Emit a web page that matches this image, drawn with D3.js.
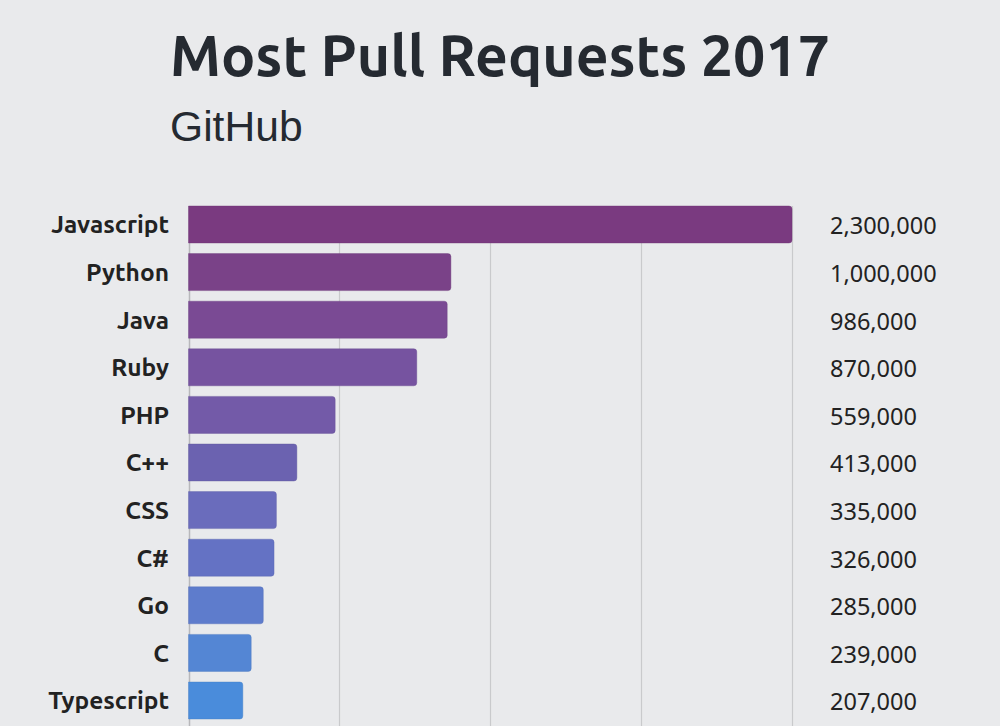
<!DOCTYPE html>
<html>
<head>
<meta charset="utf-8">
<script src="https://cdn.jsdelivr.net/npm/d3@7"></script>
<style>
  html, body { margin: 0; padding: 0; background: #e9eaec; }
  svg { display: block; }
</style>
</head>
<body>
<svg id="chart" width="1000" height="726"></svg>
<script>
const languages = ["Javascript", "Python", "Java", "Ruby", "PHP", "C++", "CSS", "C#", "Go", "C", "Typescript"];
const pullRequests = [2300000, 1000000, 986000, 870000, 559000, 413000, 335000, 326000, 285000, 239000, 207000];
const xTicks = [0, 575000, 1150000, 1725000, 2300000];
const titleText = "Most Pull Requests 2017";
const subtitleText = "GitHub";

// style palette (purple to blue)
const palette = ["#7a3a80", "#7a4288", "#7a4a94", "#7653a0", "#735aa8", "#6b62b0", "#6a6cbc", "#6472c4", "#5e7ccc", "#5486d4", "#4a8cdb"];

const W = 1000, H = 726;
const svg = d3.select("#chart");

const x = d3.scaleLinear().domain([0, 2300000]).range([188.5, 792]);
const y = d3.scaleBand().domain(languages).range([206, 719]).paddingInner(0.223).paddingOuter(0);
const color = d3.scaleOrdinal().domain(languages).range(palette);

// title
const title = svg.append("text")
  .attr("x", 170).attr("y", 76)
  .attr("fill", "#252a31")
  .style("font-family", "Ubuntu, 'Open Sans', 'Noto Sans', sans-serif")
  .style("font-weight", 700)
  .style("font-size", "54px")
  .text(titleText);
const tw = title.node().getComputedTextLength();
title.style("font-size", (54 * 660 / tw) + "px");

svg.append("text")
  .attr("x", 170).attr("y", 141)
  .attr("fill", "#252a31")
  .style("font-family", "'Liberation Sans', Arial, sans-serif")
  .style("font-size", "42.6px")
  .text(subtitleText);

// gridlines
svg.append("g")
  .selectAll("line")
  .data(xTicks)
  .join("line")
  .attr("x1", d => Math.round(x(d)) + 0.5)
  .attr("x2", d => Math.round(x(d)) + 0.5)
  .attr("y1", 206)
  .attr("y2", H)
  .attr("stroke", (d, i) => i === 0 ? "#b8b8bb" : "#c9cacc")
  .attr("stroke-width", (d, i) => i === 0 ? 1.5 : 1.2);

function barPath(x0, x1, y0, h, r) {
  const p = d3.path();
  p.moveTo(x0, y0);
  p.lineTo(x1 - r, y0);
  p.arcTo(x1, y0, x1, y0 + r, r);
  p.lineTo(x1, y0 + h - r);
  p.arcTo(x1, y0 + h, x1 - r, y0 + h, r);
  p.lineTo(x0, y0 + h);
  p.closePath();
  return p.toString();
}

svg.append("g")
  .selectAll("path")
  .data(languages)
  .join("path")
  .attr("d", (d, i) => barPath(x(0), x(pullRequests[i]), y(d), y.bandwidth(), 3))
  .attr("fill", d => color(d))
  .attr("stroke", d => d3.color(color(d)).darker(0.3))
  .attr("stroke-opacity", 0.5)
  .attr("stroke-width", 0.8);

// category labels
svg.append("g")
  .selectAll("text")
  .data(languages)
  .join("text")
  .attr("x", 169)
  .attr("y", d => y(d) + y.bandwidth() / 2)
  .attr("dy", "0.36em")
  .attr("text-anchor", "end")
  .attr("fill", "#222")
  .style("font-family", "Ubuntu, 'Open Sans', 'Noto Sans', sans-serif")
  .style("font-weight", 700)
  .style("font-size", "24.5px")
  .text(d => d);

// value labels
const fmt = d3.format(",");
svg.append("g")
  .selectAll("text")
  .data(languages)
  .join("text")
  .attr("x", 830)
  .attr("y", d => y(d) + y.bandwidth() / 2 + 1.5)
  .attr("dy", "0.36em")
  .attr("fill", "#222")
  .style("font-family", "'Noto Sans', 'Open Sans', sans-serif")
  .style("font-size", "23.5px")
  .text((d, i) => fmt(pullRequests[i]));
</script>
</body>
</html>
